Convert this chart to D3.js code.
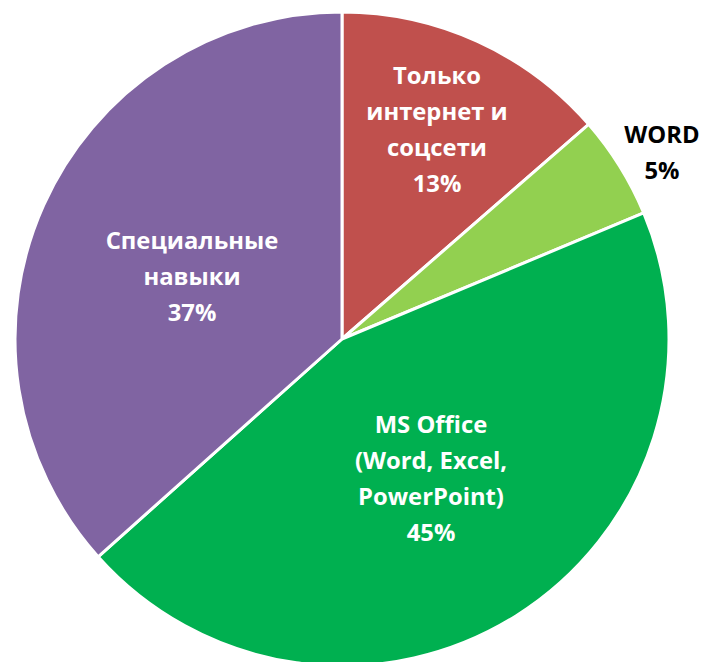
<!DOCTYPE html>
<html><head><meta charset="utf-8">
<script src="https://cdn.jsdelivr.net/npm/d3@7"></script>
<style>body{margin:0;background:#fff}svg{display:block}</style>
</head><body>
<svg id="c" width="709" height="662"></svg>
<script>
const categories = ["Только интернет и соцсети", "WORD", "MS Office (Word, Excel, PowerPoint)", "Специальные навыки"];
const values = [13.6, 5.1, 44.7, 36.6];
const percentLabels = ["13%", "5%", "45%", "37%"];
const labelLines = [["Только", "интернет и", "соцсети"], ["WORD"], ["MS Office", "(Word, Excel,", "PowerPoint)"], ["Специальные", "навыки"]];
const colors = ["#C0504D", "#92D050", "#00B050", "#8064A2"];

const svg = d3.select("#c");
const cx = 342, cy = 339, r = 327;
const g = svg.append("g").attr("transform", `translate(${cx},${cy})`);
const pie = d3.pie().sort(null).value(d => d)(values);
const arc = d3.arc().innerRadius(0).outerRadius(r);
g.selectAll("path").data(pie).join("path")
  .attr("d", arc).attr("fill", (d, i) => colors[i])
  .attr("stroke", "#fff").attr("stroke-width", 3).attr("stroke-linejoin", "round");

// label block centers (page coords) and text colors
const labelLayout = [
  {x: 437, y: 129, color: "#fff"},
  {x: 662, y: 152.5, color: "#000"},
  {x: 431, y: 478.5, color: "#fff"},
  {x: 192, y: 276, color: "#fff"}
];
const lh = 36;
pie.forEach((d, i) => {
  const lines = labelLines[i].concat([percentLabels[i]]);
  const L = labelLayout[i];
  const t = svg.append("text").attr("text-anchor", "middle")
    .attr("font-family", "'Open Sans', sans-serif").attr("font-weight", "bold")
    .attr("font-size", 23.8).attr("fill", L.color);
  lines.forEach((l, j) => {
    t.append("tspan").attr("x", L.x).attr("y", L.y + (j - (lines.length - 1) / 2) * lh)
      .attr("dy", "0.36em").text(l);
  });
});
</script>
</body></html>
